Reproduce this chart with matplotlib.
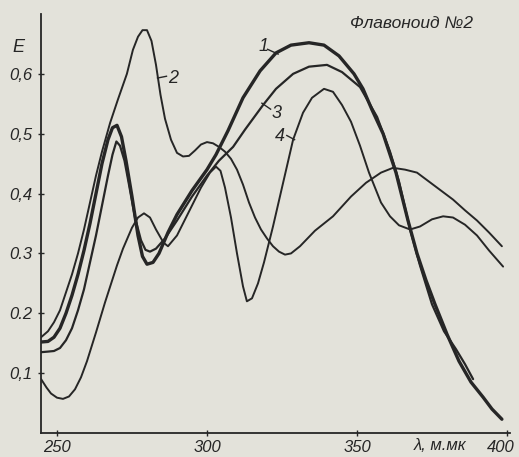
import matplotlib
matplotlib.use("Agg")
import matplotlib.pyplot as plt
from matplotlib.transforms import ScaledTranslation

# spectra (wavelength in ммк, extinction E)
wl_1 = [244.7, 247, 249, 251, 253, 255, 257, 259, 261, 263, 265, 267, 268.5, 270, 271.5,
        273, 275, 277, 278.5, 280, 282, 284, 287, 290, 295, 300, 303, 307, 312, 317.7,
        323, 328, 334, 339, 344, 349, 352, 355, 358.7, 363, 367, 370, 373, 376, 380,
        384, 388, 392, 395, 398.3]
e_1 = [0.152, 0.153, 0.16, 0.175, 0.2, 0.23, 0.265, 0.305, 0.35, 0.4, 0.45, 0.49, 0.51,
       0.514, 0.495, 0.455, 0.395, 0.33, 0.295, 0.282, 0.285, 0.3, 0.335, 0.365, 0.405,
       0.44, 0.465, 0.505, 0.56, 0.605, 0.635, 0.648, 0.652, 0.648, 0.63, 0.6, 0.575,
       0.54, 0.5, 0.435, 0.355, 0.3, 0.255, 0.215, 0.165, 0.12, 0.085, 0.06, 0.04, 0.023]

wl_2 = [244.7, 247, 249, 251, 253, 255, 257, 259, 261, 263, 265, 267.7, 270.3, 273.3,
        275.3, 277, 278.5, 280, 281.5, 283, 284.5, 286, 288, 290, 292, 294, 296, 298,
        300, 302, 304, 306, 308, 310, 312, 314, 316, 318, 320, 322, 324, 326, 328, 331,
        336, 342, 348, 353, 358, 362, 366, 370, 374, 378, 382, 386, 390, 394, 398.3]
e_2 = [0.16, 0.17, 0.185, 0.205, 0.235, 0.265, 0.3, 0.34, 0.385, 0.43, 0.47, 0.518, 0.557,
       0.6, 0.64, 0.662, 0.673, 0.673, 0.655, 0.615, 0.565, 0.525, 0.49, 0.468, 0.462,
       0.463, 0.472, 0.482, 0.486, 0.484, 0.478, 0.47, 0.458, 0.44, 0.415, 0.385, 0.36,
       0.34, 0.325, 0.312, 0.303, 0.298, 0.3, 0.312, 0.338, 0.362, 0.395, 0.418, 0.435,
       0.443, 0.44, 0.435, 0.42, 0.405, 0.39, 0.372, 0.355, 0.335, 0.312]

wl_3 = [244.7, 247, 249, 251, 253, 255, 257, 259, 261, 263, 265, 267, 268.5, 269.8, 271,
        272.5, 274, 276, 278, 279.5, 281, 283, 286, 290, 295, 300, 304, 308.7, 312.7,
        318.7, 323, 328.7, 334, 340, 345, 351, 356.7, 361, 364, 367.7, 371, 375, 379,
        383, 386, 388.7]
e_3 = [0.135, 0.136, 0.137, 0.142, 0.155, 0.175, 0.205, 0.24, 0.285, 0.33, 0.38, 0.43,
       0.465, 0.487, 0.48, 0.455, 0.415, 0.36, 0.322, 0.306, 0.303, 0.308, 0.325, 0.355,
       0.395, 0.43, 0.455, 0.478, 0.507, 0.548, 0.575, 0.6, 0.612, 0.615, 0.603, 0.578,
       0.528, 0.47, 0.42, 0.34, 0.28, 0.215, 0.17, 0.14, 0.115, 0.09]

wl_4 = [244.7, 246.5, 248, 250, 252, 254, 256, 258, 260, 263, 266, 270, 272, 275, 277,
        279, 281, 283, 285.5, 287, 290, 294, 298, 301, 303, 304.5, 306, 308, 310, 312,
        313.3, 315, 317, 319, 322, 325, 328.7, 332, 335, 339, 342, 345, 348, 351, 354,
        358, 361, 364, 367.7, 371, 375, 378.7, 382, 386, 390, 394, 398.7]
e_4 = [0.09, 0.076, 0.066, 0.059, 0.057, 0.061, 0.073, 0.093, 0.12, 0.168, 0.218, 0.28,
       0.308, 0.343, 0.36, 0.367, 0.36, 0.34, 0.318, 0.312, 0.33, 0.37, 0.41, 0.435,
       0.445, 0.438, 0.41, 0.36, 0.3, 0.245, 0.22, 0.225, 0.25, 0.285, 0.345, 0.41, 0.49,
       0.535, 0.56, 0.575, 0.57, 0.548, 0.52, 0.48, 0.435, 0.385, 0.362, 0.347, 0.34,
       0.345, 0.357, 0.362, 0.36, 0.348, 0.33, 0.305, 0.278]

y_ticks = [0.1, 0.2, 0.3, 0.4, 0.5, 0.6]
y_labels = ["0,1", "0.2", "0.3", "0,4", "0,5", "0,6"]
x_ticks = [250, 300, 350, 400]

paper = "#e3e2da"
ink = "#262626"

fig = plt.figure(figsize=(5.19, 4.57), dpi=100, facecolor=paper)
ax = fig.add_axes([41 / 519, 24 / 457, 469 / 519, 419 / 457])
ax.set_facecolor(paper)

line_kw = dict(color=ink, solid_joinstyle="round", solid_capstyle="round")
ax.plot(wl_1, e_1, lw=2.4, **line_kw)
ax.plot(wl_2, e_2, lw=1.4, **line_kw)
ax.plot(wl_3, e_3, lw=1.6, **line_kw)
ax.plot(wl_4, e_4, lw=1.4, **line_kw)

ax.set_xlim(244.67, 401)
ax.set_ylim(0, 0.7)

for side in ["top", "right"]:
    ax.spines[side].set_visible(False)
for side in ["left", "bottom"]:
    ax.spines[side].set_color(ink)
    ax.spines[side].set_linewidth(1.3)

tfont = dict(family="Liberation Sans", style="italic", size=12, color=ink)
ax.set_yticks(y_ticks)
ax.set_yticklabels(y_labels, **tfont)
ax.set_xticks(x_ticks)
ax.set_xticklabels([str(v) for v in x_ticks], **tfont)
ax.tick_params(axis="both", direction="inout", length=4, width=1, color=ink)
ax.tick_params(axis="y", pad=4)
ax.tick_params(axis="x", pad=3)
# the last label sits right at the paper edge, nudge it in a little
last = ax.get_xticklabels()[-1]
last.set_transform(last.get_transform() + ScaledTranslation(-6 / 100, 0, fig.dpi_scale_trans))

# curve numbers with their little leader dashes
lab = dict(family="Liberation Sans", style="italic", size=13, color=ink,
           ha="center", va="center")
ax.text(318.7, 0.645, "1", **lab)
ax.plot([320.2, 323.7], [0.641, 0.633], color=ink, lw=1)
ax.text(288.8, 0.592, "2", **lab)
ax.plot([283.5, 286.5], [0.593, 0.596], color=ink, lw=1)
ax.text(323.3, 0.533, "3", **lab)
ax.plot([318.3, 321.2], [0.551, 0.541], color=ink, lw=1)
ax.text(324.3, 0.495, "4", **lab)
ax.plot([326.6, 329.2], [0.497, 0.49], color=ink, lw=1)

fig.text(411 / 519, 1 - 23 / 457, "Флавоноид №2", ha="center", va="center",
         family="Liberation Sans", style="italic", size=12.5, color=ink)
fig.text(18 / 519, 1 - 48 / 457, "E", ha="center", va="center",
         family="Liberation Sans", style="italic", size=13, color=ink)
fig.text(440 / 519, 1 - 446 / 457, "λ, м.мк", ha="center", va="center",
         family="Liberation Sans", style="italic", size=12, color=ink)

fig.savefig("out.png", dpi=100, facecolor=paper)
